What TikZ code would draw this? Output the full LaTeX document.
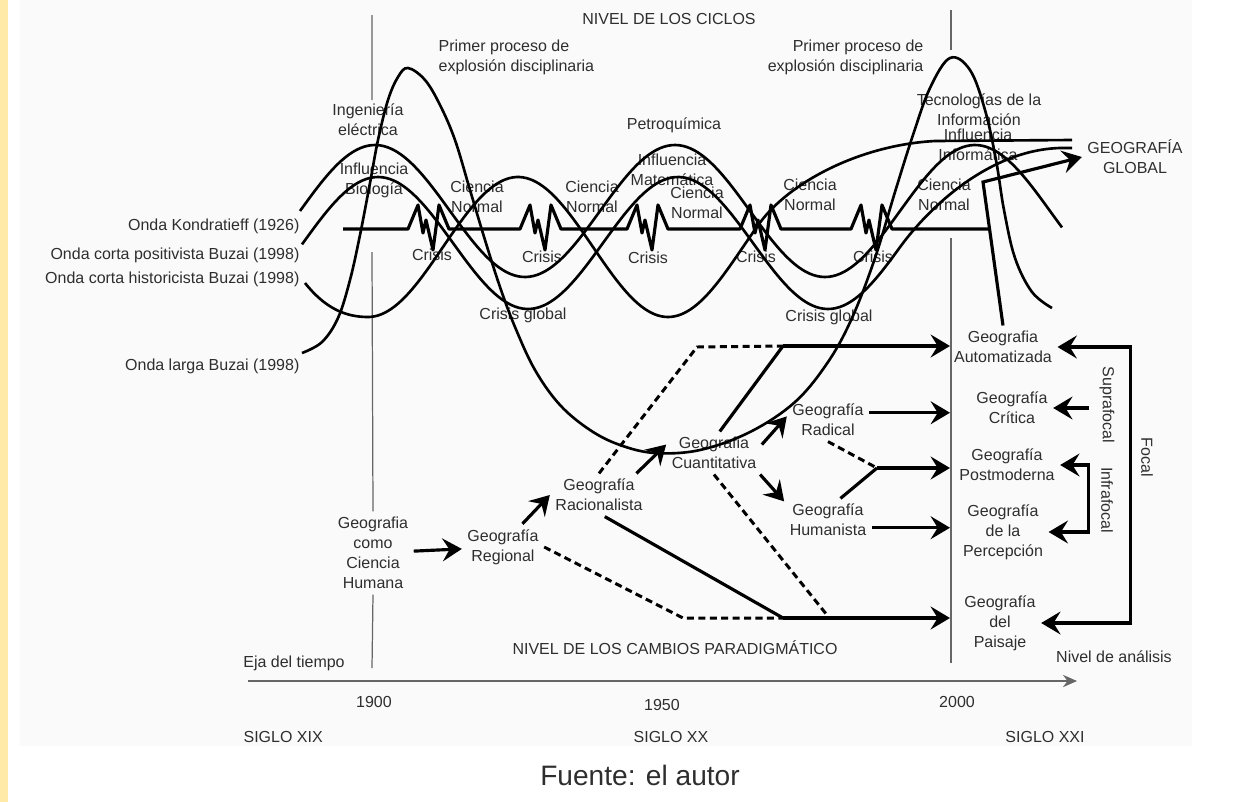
\documentclass[tikz,border=0pt]{standalone}
\usepackage{fontspec}
\setmainfont{Liberation Sans}
\usetikzlibrary{arrows.meta}
\definecolor{franja}{HTML}{FFEAA8}
\definecolor{panel}{HTML}{FAFAFA}
\definecolor{texto}{HTML}{2E2E2E}
\newcommand{\etiq}{\fontsize{9.1}{11.4}\selectfont}
\begin{document}
\begin{tikzpicture}[x=0.02cm,y=-0.02cm,>={Stealth[length=11pt,width=13pt,inset=4pt]},
    every node/.style={font=\etiq,text=texto,align=center,inner sep=3pt},
    onda/.style={line width=1.5pt},
    base/.style={line width=1.8pt,line join=round},
    flecha/.style={line width=1.8pt,->},
    guion/.style={line width=1.7pt,dash pattern=on 4pt off 2.5pt},
    marca/.style={line width=0.7pt,black!60}]
    \useasboundingbox (0,0) rectangle (1249,802);
    \fill[franja] (0,0) rectangle (8,802);
    \fill[panel] (20,0) rectangle (1192,746);
    % ondas: rotulos
    \node[anchor=east] (lk) at (305,226) {Onda Kondratieff (1926)};
    \node[anchor=east] (lp) at (305,255) {Onda corta positivista Buzai (1998)};
    \node[anchor=east] (lh) at (305,279) {Onda corta historicista Buzai (1998)};
    \node[anchor=east] (ll) at (305,366) {Onda larga Buzai (1998)};
    \node (ciclos) at (669,19) {NIVEL DE LOS CICLOS};
    \node[anchor=west,align=left] (exp1) at (433,57) {Primer proceso de\\explosión disciplinaria};
    \node[anchor=east,align=right] (exp2) at (929,57) {Primer proceso de\\explosión disciplinaria};
    \node (ing) at (368,120) {Ingeniería\\eléctrica};
    \node (bio) at (374,180) {Influencia\\Biología};
    \node (petro) at (674,125) {Petroquímica};
    \node (mat) at (672,170) {Influencia\\Matemática};
    \node (tic) at (979,110) {Tecnologías de la\\Información};
    \node (inf) at (978,145) {Influencia\\Informática};
    \foreach \x/\y [count=\i] in {477/197,592/197,697/203,810/195,944/195}
        \node (cn\i) at (\x,\y) {Ciencia\\Normal};
    \foreach \x/\y [count=\i] in {432/255,542/257,648/258,756/257,873/257}
        \node (cr\i) at (\x,\y) {Crisis};
    \node (cg1) at (523,315) {Crisis global};
    \node (cg2) at (829,317) {Crisis global};
    \node (glob) at (1135,157) {GEOGRAFÍA\\GLOBAL};
    % paradigmas
    \node (hum) at (373,553) {Geografia\\como\\Ciencia\\Humana};
    \node (reg) at (503,547) {Geografía\\Regional};
    \node (rac) at (599,495) {Geografía\\Racionalista};
    \node (cua) at (714,453) {Geografia\\Cuantitativa};
    \node (rad) at (828,420) {Geografía\\Radical};
    \node (hst) at (828,520) {Geografía\\Humanista};
    \node (aut) at (1003,347) {Geografia\\Automatizada};
    \node (cri) at (1012,408) {Geografía\\Crítica};
    \node (pos) at (1007,465) {Geografía\\Postmoderna};
    \node (per) at (1003,532) {Geografía\\de la\\Percepción};
    \node (pai) at (1000,623) {Geografía\\del\\Paisaje};
    \node[rotate=-90] (sup) at (1107,405) {Suprafocal};
    \node[rotate=-90] (inff) at (1107,500) {Infrafocal};
    \node[rotate=-90] (foc) at (1147,457) {Focal};
    \node (cambios) at (675,648) {NIVEL DE LOS CAMBIOS PARADIGMÁTICO};
    \node (nivel) at (1114,657) {Nivel de análisis};
    % eje del tiempo
    \node (eje) at (294,663) {Eja del tiempo};
    \node (a1900) at (374,702) {1900};
    \node (a1950) at (662,705) {1950};
    \node (a2000) at (957,702) {2000};
    \node[anchor=west] (s19) at (238,737) {SIGLO XIX};
    \node (s20) at (671,737) {SIGLO XX};
    \node (s21) at (1045,737) {SIGLO XXI};
    \node[font=\fontsize{16}{19}\selectfont] (fuente) at (640,775) {Fuente: el autor};
    \coordinate (ejeA) at (248,681);
    \coordinate (ejeB) at (1077,681);
    \coordinate (mil) at (950,300);
    \draw[marca,-{Stealth[length=8pt,width=7pt]}] (ejeA) -- (ejeB);
    \draw[marca] (372,15) -- (372,100) (372,252) -- (hum.north) (hum.south) -- (372,668);
    \draw[marca] (951,10) -- (951,50) (951,238) -- (951,663);
    % ondas
    \draw[onda] plot[domain=300:1062,samples=200,smooth] (\x,{211-66*sin((\x-300)*1.2)});
    \draw[onda] plot[domain=302:900,samples=150,smooth] (\x,{243-66*sin((\x-303)*1.2)})
        .. controls (930,206) and (990,150) .. (1060,148) -- (1072,148);
    \draw[onda] (305,283) .. controls (325,308) and (345,317) .. (368,317)
        -- plot[domain=368:760,samples=120,smooth] (\x,{247+70*cos((\x-368)*1.2)})
        .. controls (790,182) and (860,145) .. (935,141) -- (1072,140);
    \draw[onda] plot[smooth,tension=0.6] coordinates {(302,353) (322,342) (338,318) (350,280)
        (360,235) (370,183) (378,140) (388,100) (398,77) (408,68) (425,80) (440,105)
        (455,140) (470,190) (485,240) (500,287) (515,327) (535,370) (560,405) (590,430)
        (620,445) (655,453) (700,450) (750,432) (795,402) (828,362) (852,318) (875,258)
        (895,192) (913,135) (930,88) (950,58) (970,70) (985,110) (996,160) (1004,210)
        (1015,258) (1032,292) (1052,308)};
    % linea de ciencia normal y crisis
    \draw[base] (343,229) foreach \c in {408,520,627,740,851} {
        -- (\c,229) -- ++(10,-24) -- ++(5,28) -- ++(3,-13) -- ++(7,30) -- ++(6,-45) -- ++(10,24)}
        -- (989,229);
    % cambios paradigmaticos
    \coordinate (ka) at (697,347);
    \coordinate (ja) at (783,346);
    \coordinate (jp) at (877,468);
    \coordinate (kp) at (683,618);
    \coordinate (jq) at (783,618);
    \coordinate (kc) at (827,615);
    \coordinate (ga) at (983,182);
    \draw[flecha] (hum) -- (reg);
    \draw[flecha] (reg.50) -- (rac.west);
    \draw[flecha] (rac.30) -- (cua.170);
    \draw[flecha] (cua.10) -- (rad.175);
    \draw[flecha] (cua.-25) -- (hst.157);
    \draw[guion] (rac.north) -- (ka) -- (ja);
    \draw[base] (cua.75) -- (ja);
    \draw[flecha] (ja) -- (ja -| mil);
    \draw[flecha] (rad.10) -- (rad.10 -| mil);
    \draw[guion] (rad.south) -- (jp);
    \draw[base] (hst.60) -- (jp);
    \draw[flecha] (jp) -- (jp -| mil);
    \draw[flecha] (hst.-10) -- (hst.-10 -| mil);
    \draw[guion] (reg.east) -- (kp) -- (jq);
    \draw[base] (rac.-75) -- (jq);
    \draw[guion] (cua.south) -- (kc);
    \draw[flecha] (jq) -- (jq -| mil);
    \draw[flecha] (aut.north) -- (ga) -- (glob.west);
    % niveles de analisis
    \draw[flecha,<->] (aut.east) -- ++(73,0) |- (pai.east);
    \draw[flecha,<-] (cri.east) -- ++(36,0);
    \draw[flecha,<->] (pos.east) -- ++(28,0) |- (per.east);
\end{tikzpicture}
\end{document}
